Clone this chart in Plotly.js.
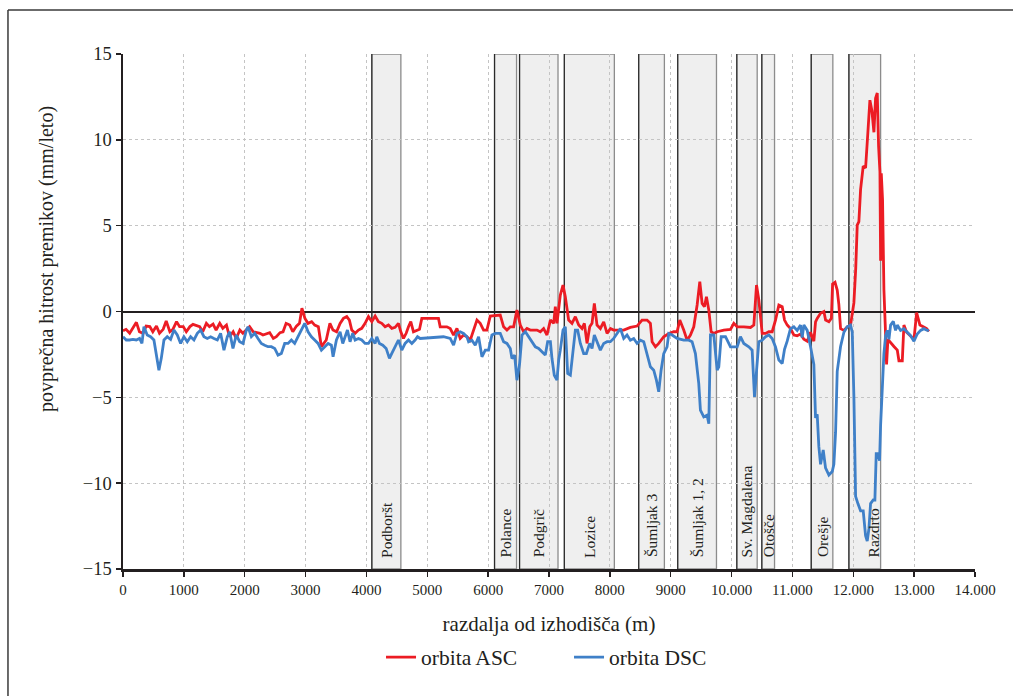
<!DOCTYPE html>
<html>
<head>
<meta charset="utf-8">
<script src="https://cdn.plot.ly/plotly-3.0.1.min.js"></script>
<style>
  html, body { margin: 0; padding: 0; background: #ffffff; }
  #chart { width: 1013px; height: 696px; }
</style>
</head>
<body>
<div id="chart"></div>
<script>
// ---- Data ----
const ascX = [0,50,110,160,220,270,330,380,440,490,550,600,660,710,770,820,880,930,990,1040,1100,1150,1200,1260,1310,1370,1420,1480,1530,1590,1640,1700,1750,1810,1860,1920,1970,2030,2080,2140,2190,2250,2300,2360,2410,2470,2520,2580,2630,2680,2740,2790,2850,2900,2940,2990,3040,3100,3150,3210,3260,3340,3400,3450,3510,
  3567,3622,3677,3720,3759,3814,3869,3923,3978,4033,4088,4143,4197,4252,4307,4362,4417,4471,4526,4565,4609,4653,4691,4729,4773,4828,4872,4910,5184,5212,5321,
  5377,5432,5487,5541,5596,5651,5706,5761,5816,5870,5925,5980,6035,6199,6254,6309,6364,6419,6473,6528,6583,6638,6693,6748,6802,6857,6912,6967,7023,7077,7104,7131,7186,7230,7268,7323,7378,7433,7488,7542,7581,7625,7669,7707,7745,7789,7844,7899,7954,8009,8063,8118,8228,8337,8447,8529,8611,8666,8694,8749,8803,8885,8968,9050,9105,9149,9187,9214,9269,9324,9379,9434,9478,9516,9554,9587,9626,9664,9708,9763,9872,9982,10037,10092,10201,10311,10366,10410,10448,10503,10558,10612,10667,10722,10777,10832,
  10870,10914,10968,11023,11078,11133,11188,11243,11297,11352,11380,11407,11462,11517,11545,11599,11640,11660,11700,11736,11763,11791,11846,11900,11955,12010,12040,12065,12092,12120,12163,12202,12240,12273,12306,12339,12366,12394,12416,12438,12449,12460,12481,12503,12525,12547,12569,12613,12668,12723,12750,12805,12832,12876,12942,12997,13041,13095,13150,13205,13243];
const ascY = [-1.12,-1.04,-1.27,-0.98,-0.63,-1.18,-1.27,-0.85,-0.88,-1.18,-0.85,-1.27,-1.04,-0.55,-1.18,-1.04,-0.59,-0.88,-0.88,-1.18,-0.88,-0.75,-0.79,-0.88,-1.18,-0.69,-0.88,-0.73,-1.08,-0.69,-0.98,-0.79,-1.47,-1.18,-1.57,-1.08,-1.27,-1.08,-0.88,-1.18,-1.23,-1.27,-1.37,-1.27,-1.23,-1.57,-1.47,-1.23,-1.18,-0.69,-0.79,-1.18,-0.85,-0.69,0.19,-0.40,-0.69,-0.59,-0.79,-0.88,-2.05,-1.66,-0.69,-1.08,-1.18,
  -0.69,-0.40,-0.30,-0.50,-1.08,-1.27,-1.08,-0.98,-0.69,-0.30,-0.59,-0.26,-0.59,-0.69,-0.89,-0.79,-0.98,-0.92,-0.69,-1.18,-1.57,-1.27,-0.89,-0.59,-1.18,-1.08,-1.04,-0.40,-0.40,-0.89,-0.89,
  -0.99,-1.37,-0.99,-1.57,-1.37,-1.47,-1.67,-1.08,-0.50,-0.69,-1.08,-1.08,-0.27,-0.21,-0.89,-1.08,-0.89,-0.89,0.08,-0.79,-1.18,-0.99,-1.08,-1.08,-1.08,-1.18,-0.99,-1.37,-0.50,-0.69,0.28,-0.69,0.96,1.54,0.86,-0.50,-0.69,-0.30,-0.79,-0.99,-0.69,-1.86,-0.89,-0.69,0.47,-0.79,-0.99,-0.60,-1.28,-0.99,-1.08,-1.08,-1.08,-0.93,-0.85,-0.50,-0.50,-0.69,-1.76,-2.06,-1.86,-1.47,-1.28,-1.18,-1.18,-0.50,-0.79,-1.08,-1.67,-1.37,-0.89,0.38,1.74,0.47,0.28,0.86,0.08,-1.18,-1.28,-1.18,-1.08,-1.04,-0.69,-0.89,-0.89,-0.93,-0.79,1.54,0.67,-1.28,-1.28,-1.18,-1.18,-0.50,0.38,0.28,
  -0.5,-0.79,-1.0,-1.37,-1.41,-1.31,-1.62,-1.73,-1.21,-1.73,-0.6,-0.4,-0.1,0.0,-0.5,-0.6,-0.4,1.6,1.7,1.25,0.4,-1.0,-1.10,-0.89,-0.79,0.5,2.5,5.03,5.24,7.11,8.47,8.36,10.44,12.31,11.69,10.44,12.42,12.73,9.61,8.15,2.95,8.05,6.49,1.29,-0.79,-3.08,-1.62,-1.83,-2.04,-2.25,-2.87,-2.87,-0.79,-1.21,-1.41,-1.62,-0.06,-0.79,-0.89,-1.0,-1.16];

const dscX = [0,53,108,163,218,272,311,344,398,453,508,547,590,629,673,727,782,837,892,947,1001,1056,1111,1166,1221,1276,1330,1385,1440,1495,1550,1604,1659,1714,1752,1807,1862,1917,1972,2027,2054,2109,2164,2218,2273,2328,2383,2438,2493,2547,2602,2657,2712,2767,2821,2876,2931,2986,3041,3096,3150,3205,3260,3315,3370,3424,3452,3507,
  3567,3611,3649,3688,3731,3775,3814,3869,3923,3978,4033,4088,4143,4170,4214,4269,4324,4378,4417,4471,4526,4581,4636,4691,4746,4800,4839,4883,5047,5266,
  5377,5432,5487,5541,5596,5651,5679,5733,5788,5843,5898,5953,6007,6062,6117,6199,6254,6309,6364,6391,6435,6473,6517,6556,6611,6665,6720,6775,6830,6885,6939,6978,7023,7049,7087,7131,7159,7186,7230,7268,7307,7351,7394,7433,7471,7515,7570,7614,7669,7707,7745,7789,7844,7899,7954,8009,8063,8118,8173,8228,8282,8337,8392,8447,8502,8557,8611,8666,8721,8765,8803,8842,8885,8940,8968,9023,9105,9214,9297,9351,9406,9461,9488,9543,9598,9626,9653,9708,9763,9790,9829,9900,9982,10092,10146,10201,10283,10338,10377,10410,10448,10503,10558,10612,10667,10722,10777,10832,
  10870,10914,10968,11023,11078,11133,11160,11188,11243,11297,11352,11380,11407,11434,11462,11506,11544,11599,11654,11681,11709,11736,11791,11846,11900,11955,11983,12010,12038,12076,12120,12163,12202,12229,12257,12284,12328,12355,12377,12405,12432,12449,12476,12503,12531,12558,12586,12613,12657,12695,12723,12777,12832,12887,12942,12997,13051,13106,13161,13216,13243];
const dscY = [-1.47,-1.66,-1.66,-1.63,-1.66,-1.57,-1.86,-0.89,-1.37,-1.47,-1.66,-2.64,-3.42,-2.73,-1.66,-1.47,-1.63,-1.08,-1.37,-1.86,-1.47,-1.76,-1.47,-1.66,-1.27,-1.08,-1.47,-1.57,-1.47,-1.57,-1.66,-1.27,-2.25,-1.47,-1.18,-2.15,-1.37,-1.76,-1.86,-1.08,-0.89,-1.47,-1.27,-1.57,-1.86,-1.96,-2.05,-2.05,-2.15,-2.54,-2.44,-1.86,-1.86,-1.66,-1.86,-1.47,-1.08,-0.69,-1.18,-1.47,-1.66,-1.86,-2.25,-2.05,-1.86,-1.96,-2.64,-1.66,
  -1.18,-1.86,-1.47,-1.08,-1.76,-1.27,-1.66,-1.57,-1.66,-1.86,-1.86,-1.57,-1.86,-1.47,-1.86,-1.96,-2.15,-2.73,-2.44,-2.05,-1.66,-2.25,-1.86,-1.66,-1.86,-1.66,-1.47,-1.57,-1.53,-1.47,
  -1.57,-1.96,-1.28,-1.18,-1.28,-1.47,-1.76,-1.67,-1.96,-1.47,-2.64,-2.25,-2.25,-1.37,-1.28,-1.28,-1.76,-1.86,-2.15,-2.74,-2.54,-4.0,-3.03,-1.37,-1.18,-1.47,-1.76,-2.06,-2.15,-2.35,-2.54,-1.76,-1.76,-2.74,-3.71,-4.0,-2.83,-2.25,-1.08,-0.89,-3.61,-3.71,-2.15,-1.08,-1.08,-1.86,-2.45,-2.45,-1.86,-2.15,-1.37,-1.76,-2.25,-1.86,-1.76,-1.76,-1.57,-1.28,-0.99,-1.57,-1.37,-1.67,-1.57,-1.86,-1.67,-1.76,-2.45,-3.22,-3.42,-4.0,-4.68,-3.42,-2.45,-2.06,-1.28,-1.37,-1.57,-1.67,-1.67,-1.76,-2.45,-4.20,-5.75,-6.14,-6.04,-6.53,-1.37,-1.37,-3.42,-3.22,-1.47,-1.47,-2.06,-2.06,-1.47,-1.86,-2.06,-2.25,-4.97,-3.22,-1.76,-1.67,-1.47,-1.37,-1.57,-2.06,-2.83,-3.03,
  -2.2,-1.73,-1.0,-0.89,-1.10,-0.79,-1.52,-0.79,-1.10,-2.04,-3.08,-6.2,-5.99,-7.86,-8.9,-8.07,-9.11,-9.53,-9.32,-8.9,-7.03,-3.49,-2.04,-1.21,-0.89,-0.79,-1.21,-4.95,-10.77,-11.19,-11.61,-11.61,-13.06,-13.37,-12.65,-11.19,-10.98,-10.98,-8.28,-8.28,-8.69,-6.62,-4.53,-2.45,-1.41,-1.10,-1.62,-0.79,-0.58,-1.10,-0.79,-1.10,-1.0,-1.21,-1.41,-1.73,-1.31,-1.10,-1.0,-1.10,-1.10];

// Named sections (tunnels / areas)
const zoneNames = ["Podboršt","Polance","Podgrič","Lozice","Šumljak 3","Šumljak 1, 2","Sv. Magdalena","Otošče","Orešje","Razdrto"];
const zoneStart = [4089,6105,6516,7252,8474,9115,10086,10497,11309,11928];
const zoneEnd   = [4566,6467,7148,8074,8896,9752,10421,10706,11664,12449];
const zoneLabelX = [4327,6286,6832,7663,8685,9433,10253,10601,11486,12330];

const xTickVals = [0,1000,2000,3000,4000,5000,6000,7000,8000,9000,10000,11000,12000,13000,14000];
const xTickText = ["0","1000","2000","3000","4000","5000","6000","7000","8000","9000","10.000","11.000","12.000","13.000","14.000"];
const yTickVals = [-15,-10,-5,0,5,10,15];

const seriesNames = ["orbita ASC","orbita DSC"];
const xTitle = "razdalja od izhodišča (m)";
const yTitle = "povprečna hitrost premikov (mm/leto)";

// ---- Build figure ----
const FONT = "Liberation Serif, DejaVu Serif, serif";
const traces = [
  {x: ascX, y: ascY, name: seriesNames[0], type: "scatter", mode: "lines",
   line: {color: "#ec1c24", width: 2.8}},
  {x: dscX, y: dscY, name: seriesNames[1], type: "scatter", mode: "lines",
   line: {color: "#3f80c8", width: 2.8}}
];

const shapes = [];
const annotations = [];
for (let i = 0; i < zoneNames.length; i++) {
  shapes.push({type: "rect", xref: "x", yref: "y", x0: zoneStart[i], x1: zoneEnd[i], y0: -15, y1: 15,
    fillcolor: "#efefef", line: {color: "#8c8c8c", width: 1.3}, layer: "below"});
  shapes.push({type: "line", xref: "x", yref: "y", x0: zoneStart[i], x1: zoneStart[i], y0: -15, y1: 15,
    line: {color: "#2a2a2a", width: 1.2}, layer: "below"});
  annotations.push({x: zoneLabelX[i], y: -14.45, xref: "x", yref: "y", text: zoneNames[i],
    textangle: -90, showarrow: false, xanchor: "center", yanchor: "bottom",
    font: {family: FONT, size: 15.5, color: "#231f20"}});
}
// y-axis title (placed as in the reference, above the plot centre)
annotations.push({x: -0.0892, y: 0.602, xref: "paper", yref: "paper", text: yTitle,
  textangle: -90, showarrow: false, xanchor: "center", yanchor: "middle",
  font: {family: FONT, size: 20, color: "#231f20"}});

// outer frame (left and top edges)
shapes.push({type: "line", xref: "paper", yref: "paper", x0: -0.135, x1: -0.135, y0: 1.0854, y1: -0.26,
  line: {color: "#3a3a3a", width: 1.5}});
shapes.push({type: "line", xref: "paper", yref: "paper", x0: -0.135, x1: 1.06, y0: 1.0854, y1: 1.0854,
  line: {color: "#3a3a3a", width: 1.5}});

const layout = {
  width: 1013, height: 696,
  margin: {l: 123, r: 38, t: 54, b: 127},
  paper_bgcolor: "#ffffff", plot_bgcolor: "#ffffff",
  font: {family: FONT, size: 14, color: "#231f20"},
  showlegend: true,
  legend: {orientation: "h", x: 0.5235, xanchor: "center", y: -0.171, yanchor: "middle",
    font: {family: FONT, size: 21.5, color: "#231f20"}, itemwidth: 30,
    entrywidth: 143, entrywidthmode: "pixels", bgcolor: "rgba(0,0,0,0)"},
  xaxis: {
    range: [0, 14000], tickvals: xTickVals, ticktext: xTickText,
    showline: true, linecolor: "#231f20", linewidth: 2.5,
    ticks: "outside", ticklen: 5, tickwidth: 1.5, tickcolor: "#231f20",
    showgrid: true, gridcolor: "#c4c4c4", griddash: "dot", gridwidth: 1,
    zeroline: false, automargin: false,
    tickfont: {family: FONT, size: 15, color: "#231f20"},
    title: {text: xTitle, font: {family: FONT, size: 21, color: "#231f20"}, standoff: 20}
  },
  yaxis: {
    range: [-15, 15], tickvals: yTickVals,
    showline: true, linecolor: "#231f20", linewidth: 2.5,
    ticks: "outside", ticklen: 5, tickwidth: 1.5, tickcolor: "#231f20",
    showgrid: true, gridcolor: "#c4c4c4", griddash: "dot", gridwidth: 1,
    zeroline: true, zerolinecolor: "#231f20", zerolinewidth: 2, automargin: false,
    tickfont: {family: FONT, size: 18.5, color: "#231f20"}
  },
  shapes: shapes,
  annotations: annotations,
  hovermode: false
};

Plotly.newPlot("chart", traces, layout, {displayModeBar: false, staticPlot: true});
</script>
</body>
</html>
